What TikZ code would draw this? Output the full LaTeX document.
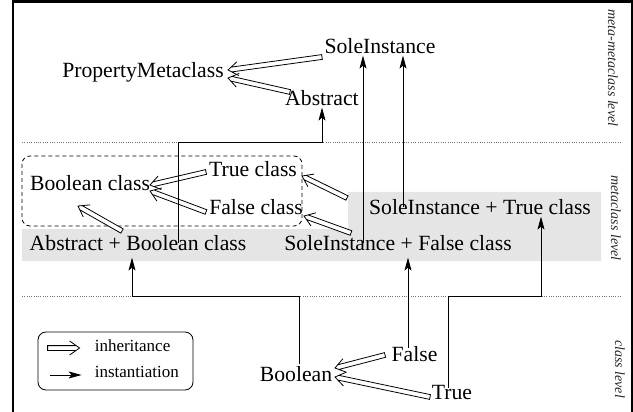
\documentclass[tikz,border=0pt]{standalone}
\usepackage{fontspec}
\setmainfont{Liberation Serif}
\usetikzlibrary{arrows.meta,calc}
\newcommand\inharr[2]{%
  \coordinate (ihA) at (#1);
  \coordinate (ihB) at (#2);
  \coordinate (ihP) at ($(ihB)!3.43pt!(ihA)$);
  \coordinate (ihW) at ($(ihB)!10pt!(ihA)$);
  \filldraw[inhs]
    ($(ihA)!2.4pt!90:(ihB)$) -- ($(ihP)!2.4pt!90:(ihB)$) -- ($(ihW)!7pt!90:(ihB)$) -- (ihB)
    -- ($(ihW)!7pt!-90:(ihB)$) -- ($(ihP)!2.4pt!-90:(ihB)$) -- ($(ihA)!2.4pt!-90:(ihB)$) -- cycle;
}
\begin{document}
\begin{tikzpicture}[x=1pt,y=-1pt,
  txt/.style={inner sep=0pt, font=\fontsize{21.7}{24}\selectfont, text height=0.68em, text depth=0.2em},
  lvl/.style={inner sep=0pt, rotate=-90, font=\fontsize{14}{16}\selectfont\itshape, text=black!85},
  leg/.style={inner sep=0pt, anchor=west, font=\fontsize{17}{19}\selectfont, text height=0.68em, text depth=0.2em},
  inhs/.style={fill=white, draw=black, line width=0.8pt, line join=miter, miter limit=4},
  inst/.style={line width=0.8pt, -{Stealth[length=13pt,width=7pt,inset=3pt]}},
  lvline/.style={line width=0.7pt, black!55, dash pattern=on 0.7pt off 1.6pt},
  grp/.style={draw, line width=0.8pt, dash pattern=on 4pt off 3pt, rounded corners=8pt},
]
\useasboundingbox (0,0) rectangle (633,412);
% frame
\fill (12,0) rectangle (633,3);
\fill (12,0) rectangle (14,412);
\fill (631,0) rectangle (633,412);
% grey band
\fill[gray!20] (22,229) -- (348,229) -- (348,192) -- (601,192) -- (601,261) -- (22,261) -- cycle;
% level separators
\coordinate (d1) at (0,142);
\coordinate (d2) at (0,296);
\draw[lvline] (22,142) -- (622,142);
\draw[lvline] (22,296) -- (622,296);
% group box
\draw[grp] (22,156) rectangle (302,226);
% level labels
\node[lvl] (l1) at (613,68) {meta-metaclass level};
\node[lvl] (l2) at (616,218) {metaclass level};
\node[lvl] (l3) at (620,369) {class level};
% nodes
\node[txt] (si) at (380,51) {SoleInstance};
\node[txt] (pm) at (143,75) {PropertyMetaclass};
\node[txt] (abs) at (322,103) {Abstract};
\node[txt] (tc) at (253,174) {True class};
\node[txt] (bc) at (90,188) {Boolean class};
\node[txt] (fc) at (256,212) {False class};
\node[txt] (ab) at (138,248) {Abstract + Boolean class};
\node[txt] (sf) at (398,248) {SoleInstance + False class};
\node[txt] (st) at (480,212) {SoleInstance + True class};
\node[txt] (bo) at (296,379) {Boolean};
\node[txt] (fa) at (414.5,359) {False};
\node[txt] (tr) at (452,397) {True};
% inheritance
\inharr{$(si)+(-58,6)$}{$(pm)+(85,-5)$}
\inharr{$(abs)+(-32,-11)$}{$(pm)+(85,3)$}
\inharr{$(tc)+(-47,-2)$}{$(bc)+(60,-3)$}
\inharr{$(fc)+(-50,0)$}{$(bc)+(60,3)$}
\inharr{$(ab)+(-16,-17)$}{$(bc)+(-12,18)$}
\inharr{$(st)+(-133,-14)$}{$(tc)+(49,2)$}
\inharr{$(sf)+(-47,-15)$}{$(fc)+(48,4)$}
\inharr{$(fa)+(-29.5,-4)$}{$(bo)+(39,-11)$}
\inharr{$(tr)+(-22,0)$}{$(bo)+(39,-2)$}
% instantiation
\draw[inst] ($(ab.north)+(40,0)$) |- (d1 -| abs.south) -- (abs.south);
\draw[inst] ($(sf.north)+(-35,0)$) coordinate (a1) -- (a1 |- si.south);
\draw[inst] ($(st.north)+(-77,0)$) coordinate (a2) -- (a2 |- si.south);
\coordinate (ab1) at ($(ab.south)+(-6,5)$);
\draw[inst] ($(bo.north)+(3,-10)$) |- (d2 -| ab1) -- (ab1);
\draw[inst] ($(fa.north)+(-6.5,-6.5)$) coordinate (a3) -- (a3 |- ab1);
\coordinate (st1) at ($(st.south)+(61,0)$);
\draw[inst] ($(tr.north)+(-4,-4.5)$) |- (d2 -| st1) -- (st1);
% legend
\node[draw, rounded corners=8pt, line width=0.8pt, minimum width=155pt, minimum height=58pt, inner sep=0pt] (lg) at (115.5,361) {};
\inharr{$(lg.west)+(10,-13)$}{$(lg.west)+(42,-13)$}
\draw[inst] ($(lg.west)+(12,14)$) -- ($(lg.west)+(44,14)$);
\node[leg] (li) at ($(lg.west)+(57,-12)$) {inheritance};
\node[leg] (ln) at ($(lg.west)+(57,14)$) {instantiation};
\end{tikzpicture}
\end{document}
